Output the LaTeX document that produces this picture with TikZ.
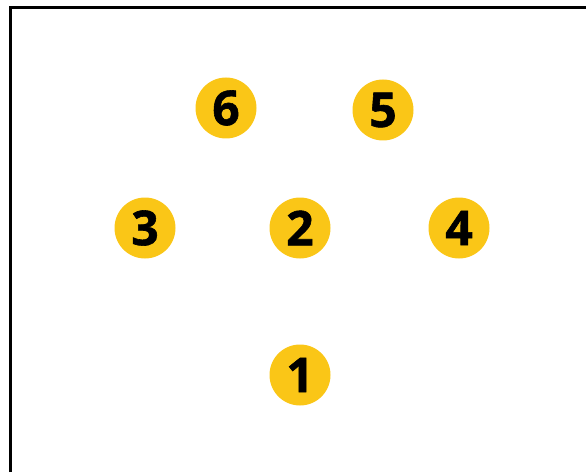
\documentclass[tikz,border=0pt]{standalone}
\usepackage{fontspec}
\setmainfont{Open Sans}
\newfontfamily\heavyfont[UprightFeatures={FakeBold=1.2},BoldFont={* Bold},BoldFeatures={FakeBold=1.2}]{Open Sans}
\definecolor{gold}{RGB}{250,198,23}
\begin{document}
\begin{tikzpicture}[x=1pt,y=1pt,
  badge/.style={circle,fill=gold,minimum size=61pt,inner sep=0pt,font=\heavyfont\fontsize{48}{48}\bfseries\selectfont}]
\useasboundingbox (0,0) rectangle (586,472);
\coordinate (tl) at (10.5,464.5);
\coordinate (tr) at (586,464.5);
\coordinate (bl) at (10.5,0);
\draw[line width=2.5pt] (bl) -- (tl) -- (tr);
\node[badge] (n6) at (226,364) {6};
\node[badge] (n5) at (383,362) {5};
\node[badge] (n3) at (145,244) {3};
\node[badge] (n2) at (300,244) {2};
\node[badge] (n4) at (459,244) {4};
\node[badge] (n1) at (300,97) {1};
\end{tikzpicture}
\end{document}
